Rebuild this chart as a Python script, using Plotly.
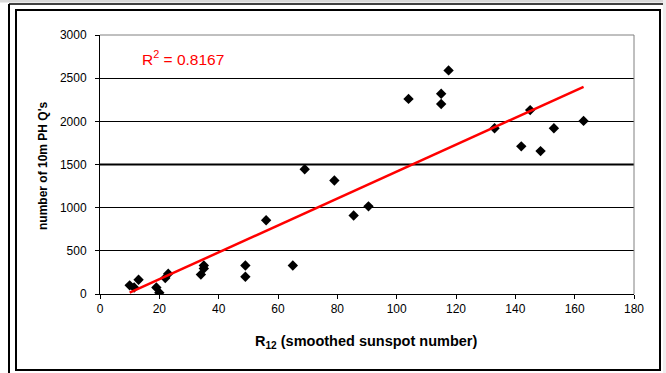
import plotly.graph_objects as go

# Data
sunspot_r12 = [10, 11.5, 13, 19, 20, 22, 23, 34, 35, 35, 49, 49, 56, 65, 69, 79,
               85.5, 90.5, 104, 115, 115, 117.5, 133, 142, 145, 148.5, 153, 163]
ph_qsos = [100, 75, 165, 75, 15, 185, 235, 225, 295, 330, 330, 200, 855, 330, 1445, 1315,
           910, 1015, 2260, 2320, 2200, 2590, 1920, 1710, 2130, 1655, 1920, 2005]
trend_x = [10, 163]
trend_y = [15, 2400]
r_squared = "0.8167"
x_ticks = [0, 20, 40, 60, 80, 100, 120, 140, 160, 180]
y_ticks = [0, 500, 1000, 1500, 2000, 2500, 3000]

W, H = 666, 373
L, R, T, B = 100, 634, 35, 294  # plot area in pixels


def px(x):
    return (x - L) / (R - L)


def py(y):
    return (B - y) / (B - T)


fig = go.Figure()
fig.add_trace(go.Scatter(
    x=sunspot_r12, y=ph_qsos, mode="markers",
    marker=dict(symbol="diamond", size=8, color="black"),
    showlegend=False, hoverinfo="x+y"))
fig.add_trace(go.Scatter(
    x=trend_x, y=trend_y, mode="lines",
    line=dict(color="#ff0000", width=2.5),
    showlegend=False, hoverinfo="skip"))

font_family = "Liberation Sans, Arial, sans-serif"

fig.update_layout(
    width=W, height=H,
    margin=dict(l=L, r=W - R, t=T, b=H - B, pad=0),
    paper_bgcolor="white", plot_bgcolor="white",
    font=dict(family=font_family, color="black", size=12),
    xaxis=dict(range=[0, 180], tickvals=x_ticks, ticks="outside", ticklen=4,
               tickcolor="black", showline=True, linecolor="black", linewidth=1,
               showgrid=False, zeroline=False, tickfont=dict(size=12)),
    yaxis=dict(range=[0, 3000], tickvals=y_ticks, ticks="outside", ticklen=4,
               tickcolor="black", showline=True, linecolor="black", linewidth=1,
               showgrid=True, gridcolor="black", gridwidth=1, zeroline=False,
               tickfont=dict(size=12), ticklabelstandoff=6),
    showlegend=False,
)

shapes = []
# plot area border (gray top and right)
shapes.append(dict(type="line", xref="paper", yref="paper", x0=0, x1=1, y0=1, y1=1,
                   line=dict(color="#808080", width=1)))
shapes.append(dict(type="line", xref="paper", yref="paper", x0=1, x1=1, y0=0, y1=1,
                   line=dict(color="#808080", width=1)))
# thicker 1500 gridline as in the reference
shapes.append(dict(type="line", xref="paper", yref="y", x0=0, x1=1, y0=1500, y1=1500,
                   line=dict(color="black", width=2), layer="below"))
# chart frame
shapes.append(dict(type="rect", xref="paper", yref="paper",
                   x0=px(16), x1=px(660), y0=py(10), y1=py(370),
                   line=dict(color="black", width=2)))
# outer frame lines
shapes.append(dict(type="line", xref="paper", yref="paper",
                   x0=px(9), x1=px(9), y0=py(4), y1=py(H + 5),
                   line=dict(color="black", width=2)))
shapes.append(dict(type="line", xref="paper", yref="paper",
                   x0=px(9), x1=px(W + 5), y0=py(4), y1=py(4),
                   line=dict(color="black", width=1.5)))
# light gray edges
shapes.append(dict(type="rect", xref="paper", yref="paper",
                   x0=px(0), x1=px(W), y0=py(0), y1=py(2.5),
                   line=dict(width=0), fillcolor="#d8d8d8"))
shapes.append(dict(type="rect", xref="paper", yref="paper",
                   x0=px(663), x1=px(W), y0=py(0), y1=py(H),
                   line=dict(width=0), fillcolor="#eeeeee"))
fig.update_layout(shapes=shapes)

annotations = [
    dict(text="R<sup>2</sup> = " + r_squared, xref="paper", yref="paper",
         x=px(140), y=py(58), xanchor="left", yanchor="middle", showarrow=False,
         font=dict(color="#ff0000", size=15.5, family=font_family)),
    dict(text="<b>R<sub>12</sub> (smoothed sunspot number)</b>", xref="paper", yref="paper",
         x=px(366), y=py(342), xanchor="center", yanchor="middle", showarrow=False,
         font=dict(size=14.5, family=font_family)),
    dict(text="<b>number of 10m PH Q's</b>", xref="paper", yref="paper",
         x=px(43), y=py(166), xanchor="center", yanchor="middle", showarrow=False,
         textangle=-90, font=dict(size=12, family=font_family)),
]
fig.update_layout(annotations=annotations)

fig.write_html("out.html", config={"displayModeBar": False},
               post_script="document.body.style.margin='0';document.body.style.overflow='hidden';")
